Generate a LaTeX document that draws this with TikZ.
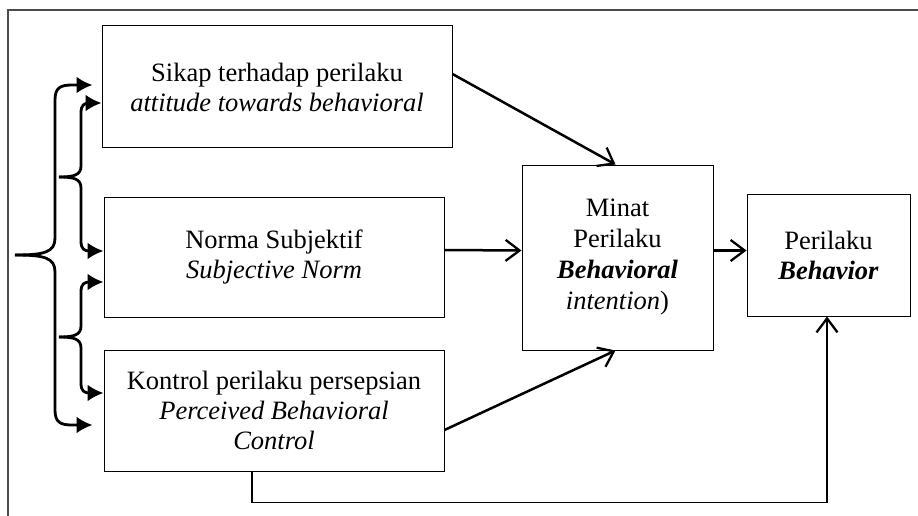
\documentclass[tikz,border=0pt]{standalone}
\usepackage{fontspec}
\setmainfont{Liberation Serif}
\usetikzlibrary{arrows.meta}
\begin{document}
\begin{tikzpicture}[x=1pt,y=-1pt,
  boxnode/.style={draw=black, line width=1pt, align=center, inner sep=0pt,
    font=\fontsize{26.5pt}{30pt}\selectfont},
  mainarr/.style={line width=2.5pt, -{Straight Barb[length=14pt,width=21pt,line width=2.3pt]}},
  bracearr/.style={line width=2.8pt, -{Latex[length=16pt,width=17pt]}},
  frameline/.style={draw=black!70, line width=1.4pt}]
\useasboundingbox (0,0) rectangle (918,516);
% frame
\coordinate (fa) at (918,10);
\coordinate (fb) at (8,10);
\coordinate (fc) at (8,516);
\draw[frameline] (fa) -- (fb) -- (fc);
% boxes
\node[boxnode, minimum width=350pt, minimum height=122pt] (b1) at (277,87)
  {Sikap terhadap perilaku\\ \textit{attitude towards behavioral}};
\node[boxnode, minimum width=340pt, minimum height=120pt] (b2) at (274,257)
  {Norma Subjektif\\ \textit{Subjective Norm}};
\node[boxnode, minimum width=340pt, minimum height=121pt] (b3) at (274,410.5)
  {Kontrol perilaku persepsian\\ \textit{Perceived Behavioral}\\ \textit{Control}};
\node[boxnode, minimum width=191pt, minimum height=185pt,
  font=\fontsize{26.5pt}{31pt}\selectfont] (b4) at (617.5,257.5)
  {Minat\\ Perilaku\\ \textbf{\textit{Behavioral}}\\ \textit{intention})};
\node[boxnode, minimum width=163pt, minimum height=122pt] (b5) at (828.5,255)
  {Perilaku\\ \textbf{\textit{Behavior}}};
% main arrows
\draw[mainarr] ([yshift=13pt]b1.east) -- ([xshift=-2pt]b4.north);
\draw[mainarr] ([yshift=7pt]b2.east) -- ([yshift=7pt]b4.west);
\draw[mainarr] ([yshift=7pt]b4.east) -- ([yshift=7pt]b4.east -| b5.west);
\draw[mainarr] ([yshift=-19.5pt]b3.east) -- ([xshift=-2pt]b4.south);
\coordinate (corner) at ([xshift=-1.5pt,yshift=-186pt]b5.south);
\draw[line width=1.2pt] ([xshift=-22pt]b3.south) |- (corner);
\draw[mainarr] (corner) -- ([xshift=-1.5pt]b5.south);
% outer brace
\coordinate (ot) at (15,255);
\draw[bracearr] (ot) .. controls (45,255) and (55,252) .. (55,238) -- (55,100)
  .. controls (55,88) and (60,85) .. (72,85) -- ([xshift=-9pt,yshift=2pt]b1.west);
\draw[bracearr] (ot) .. controls (45,255) and (55,258) .. (55,272) -- (55,410)
  .. controls (55,422) and (60,425) .. (72,425) -- ([xshift=-11pt,yshift=-14.5pt]b3.west);
% inner brace 1
\coordinate (it1) at (59,177);
\draw[bracearr] (it1) .. controls (74,177) and (81,175) .. (81,166) -- (81,113)
  .. controls (81,105) and (84,103) .. (90,103) -- ([yshift=-16pt]b1.west);
\draw[bracearr] (it1) .. controls (74,177) and (81,179) .. (81,188) -- (81,241)
  .. controls (81,249) and (84,251) .. (90,251) -- ([yshift=6pt]b2.west);
% inner brace 2
\coordinate (it2) at (59,337);
\draw[bracearr] (it2) .. controls (74,337) and (81,335) .. (81,326) -- (81,292)
  .. controls (81,284) and (84,282) .. (90,282) -- ([yshift=-25pt]b2.west);
\draw[bracearr] (it2) .. controls (74,337) and (81,339) .. (81,348) -- (81,383)
  .. controls (81,391) and (84,393) .. (90,393) -- ([yshift=17.5pt]b3.west);
\end{tikzpicture}
\end{document}
